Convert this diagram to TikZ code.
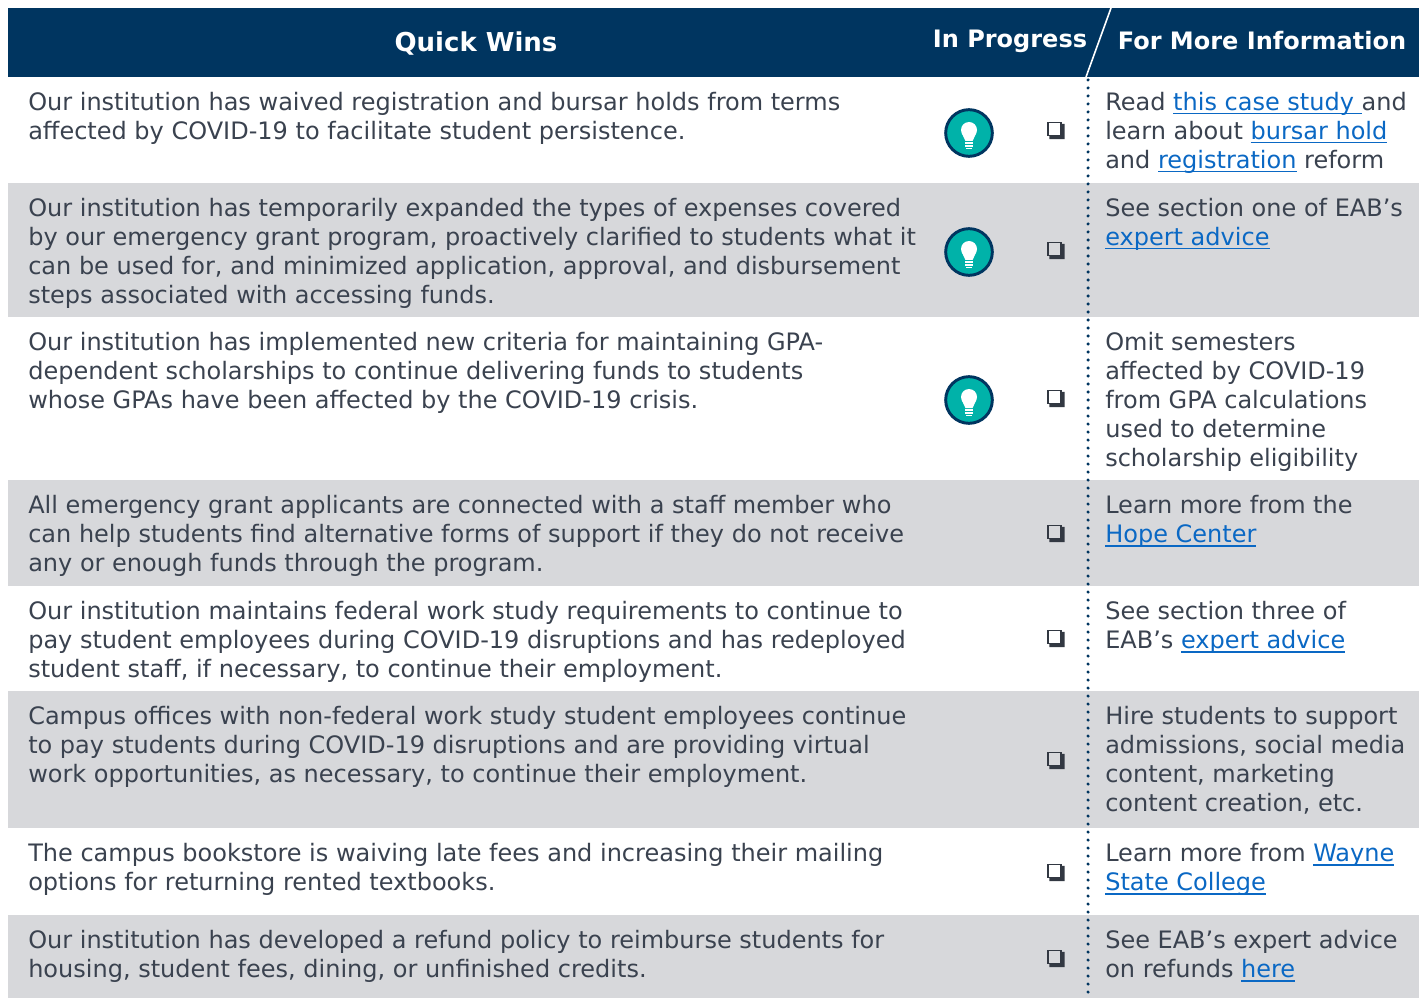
\documentclass[tikz,border=0pt]{standalone}
\usepackage{fontspec}
\setmainfont{DejaVu Sans}
\definecolor{navy}{RGB}{0,53,96}
\definecolor{rowgray}{RGB}{215,216,219}
\definecolor{textgray}{RGB}{58,66,79}
\definecolor{linkblue}{RGB}{10,104,196}
\definecolor{tealc}{RGB}{0,178,169}
\definecolor{boxgray}{RGB}{50,56,66}
\newcommand{\lnk}[1]{{\color{linkblue}\setbox0=\hbox{#1}\rlap{\rule[-2.8pt]{\wd0}{0.9pt}}\box0}}
\newcommand{\fs}{\rule{0pt}{15pt}}
\newcommand{\chkbox}[2]{%
  \node[chk] (#1) at (1054.5,#2) {};
  \fill[boxgray] ([xshift=1.5pt]#1.south west) -- ([xshift=1.5pt,yshift=-2.2pt]#1.south west)
    -- ([xshift=2.2pt,yshift=-2.2pt]#1.south east) -- ([xshift=2.2pt,yshift=-1.5pt]#1.north east)
    -- ([yshift=-1.5pt]#1.north east) -- (#1.south east) -- cycle;}
\begin{document}
\begin{tikzpicture}[x=0.75pt,y=-0.75pt,
  body/.style={anchor=north west, inner sep=0pt, align=left, text=textgray, font=\fontsize{18}{21.75}\selectfont},
  headtxt/.style={text=white, inner sep=0pt, font=\bfseries\fontsize{18}{21.75}\selectfont},
  chk/.style={rectangle, draw=boxgray, line width=1.2pt, minimum size=9.6pt, inner sep=0pt},
  iconc/.style={circle, fill=tealc, draw=navy, line width=2.2pt, minimum size=35pt, inner sep=0pt},
  dotline/.style={navy, line width=2.6pt, line cap=round, dash pattern=on 0pt off 6pt},
  bulb/.pic={
    \fill[white] (0,-3) circle (8);
    \fill[white] (-6.8,1) -- (6.8,1) -- (3.6,8) -- (-3.6,8) -- cycle;
    \fill[white] (-4,9.3) rectangle (4,10.8);
    \fill[white] (-4,12.1) rectangle (4,13.6);
    \fill[white] (-2.6,14.9) rectangle (2.6,16.4);
  }]
\useasboundingbox (0,0) rectangle (1419,998);
\fill[white] (0,0) rectangle (1419,998);
% header
\fill[navy] (8,8) rectangle (1419,77);
\coordinate (s1) at (1086,77);
\coordinate (s2) at (1111,8);
\draw[white, line width=1.2pt] (s1) -- (s2);
\node[headtxt, font=\bfseries\fontsize{19.5}{22}\selectfont] (hq) at (476,44) {Quick Wins};
\node[headtxt] (hp) at (1010,41) {In Progress};
\node[headtxt] (hi) at (1262,41) {For More Information};
% gray rows
\fill[rowgray] (8,183) rectangle (1419,317);
\fill[rowgray] (8,480) rectangle (1419,586);
\fill[rowgray] (8,691) rectangle (1419,828);
\fill[rowgray] (8,915) rectangle (1419,998);
% dotted separator
\coordinate (dtop) at (1088,80);
\coordinate (dbot) at (1088,998);
\draw[dotline] (dtop) -- (dbot);
% left texts
\node[body] (l1) at (28,90.5) {\fs Our institution has waived registration and bursar holds from terms\\affected by COVID-19 to facilitate student persistence.};
\node[body] (l2) at (28,196.5) {\fs Our institution has temporarily expanded the types of expenses covered\\by our emergency grant program, proactively clarified to students what it\\can be used for, and minimized application, approval, and disbursement\\steps associated with accessing funds.};
\node[body] (l3) at (28,330.5) {\fs Our institution has implemented new criteria for maintaining GPA-\\dependent scholarships to continue delivering funds to students\\whose GPAs have been affected by the COVID-19 crisis.};
\node[body] (l4) at (28,493.5) {\fs All emergency grant applicants are connected with a staff member who\\can help students find alternative forms of support if they do not receive\\any or enough funds through the program.};
\node[body] (l5) at (28,599.5) {\fs Our institution maintains federal work study requirements to continue to\\pay student employees during COVID-19 disruptions and has redeployed\\student staff, if necessary, to continue their employment.};
\node[body] (l6) at (28,704.5) {\fs Campus offices with non-federal work study student employees continue\\to pay students during COVID-19 disruptions and are providing virtual\\work opportunities, as necessary, to continue their employment.};
\node[body] (l7) at (28,841.5) {\fs The campus bookstore is waiving late fees and increasing their mailing\\options for returning rented textbooks.};
\node[body] (l8) at (28,928.5) {\fs Our institution has developed a refund policy to reimburse students for\\housing, student fees, dining, or unfinished credits.};
% icons
\node[iconc] (i1) at (969,133) {};
\pic at (i1) {bulb};
\node[iconc] (i2) at (969,252) {};
\pic at (i2) {bulb};
\node[iconc] (i3) at (969,400) {};
\pic at (i3) {bulb};
% checkboxes
\chkbox{c1}{129}
\chkbox{c2}{249}
\chkbox{c3}{397}
\chkbox{c4}{532}
\chkbox{c5}{637}
\chkbox{c6}{759}
\chkbox{c7}{871}
\chkbox{c8}{957}
% right texts
\node[body] (r1) at (1105,90.5) {\fs Read \lnk{this case study }and\\learn about \lnk{bursar hold}\\and \lnk{registration} reform};
\node[body] (r2) at (1105,196.5) {\fs See section one of EAB’s\\\lnk{expert advice}};
\node[body] (r3) at (1105,330.5) {\fs Omit semesters\\affected by COVID-19\\from GPA calculations\\used to determine\\scholarship eligibility};
\node[body] (r4) at (1105,493.5) {\fs Learn more from the\\\lnk{Hope Center}};
\node[body] (r5) at (1105,599.5) {\fs See section three of\\EAB’s \lnk{expert advice}};
\node[body] (r6) at (1105,704.5) {\fs Hire students to support\\admissions, social media\\content, marketing\\content creation, etc.};
\node[body] (r7) at (1105,841.5) {\fs Learn more from \lnk{Wayne}\\\lnk{State College}};
\node[body] (r8) at (1105,928.5) {\fs See EAB’s expert advice\\on refunds \lnk{here}};
\end{tikzpicture}
\end{document}
